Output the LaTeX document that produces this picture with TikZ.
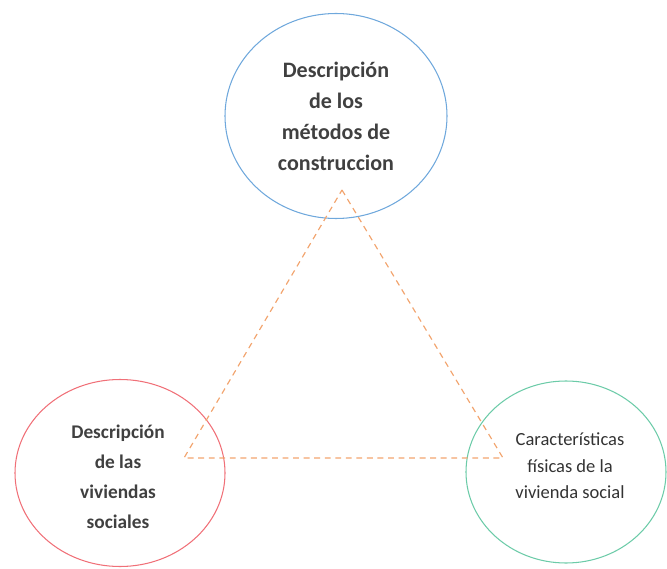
\documentclass[tikz,border=0pt]{standalone}
\usepackage{fontspec}
\setmainfont{Carlito}
\usetikzlibrary{shapes.geometric}
\definecolor{topblue}{HTML}{6FA8DC}
\definecolor{leftred}{HTML}{F07078}
\definecolor{rightgreen}{HTML}{6CCBA8}
\definecolor{dashorange}{HTML}{F2A46E}
\tikzset{
  bubble/.style={ellipse, draw, line width=0.9pt, align=center, inner sep=0pt},
  linkline/.style={draw=dashorange, line width=1pt, dash pattern=on 5pt off 4pt}
}

\begin{document}
\begin{tikzpicture}[x=0.03cm, y=-0.03cm]
            % page frame
            \useasboundingbox (0,0) rectangle (667,569);
            % triangle corners
            \coordinate (apex)  at (342,190);
            \coordinate (left)  at (184,458);
            \coordinate (right) at (503,458);
            % draw the three bubbles
            \node[bubble, draw=topblue, minimum width=222*0.03cm, minimum height=205*0.03cm,
                  font=\fontsize{18.8}{26.5}\selectfont\bfseries, text=black!75]
                  (metodos) at (336,116) {Descripción\\de los\\métodos de\\construccion};
            \node[bubble, draw=leftred, minimum width=210*0.03cm, minimum height=187*0.03cm]
                  (viviendas) at (120,473) {};
            \node[font=\fontsize{16.5}{25.5}\selectfont\bfseries, text=black!75, align=center]
                  (viviendastext) at (118,477) {Descripción\\de las\\viviendas\\sociales};
            \node[bubble, draw=rightgreen, minimum width=200*0.03cm, minimum height=182*0.03cm]
                  (fisicas) at (566,472) {};
            \node[font=\fontsize{15.8}{22.5}\selectfont, text=black!80, align=center]
                  (fisicastext) at (570,466) {Características\\físicas de la\\vivienda social};
            % dashed triangle
            \draw[linkline] (apex) -- (right) -- (left) -- cycle;
          \end{tikzpicture}
\end{document}
